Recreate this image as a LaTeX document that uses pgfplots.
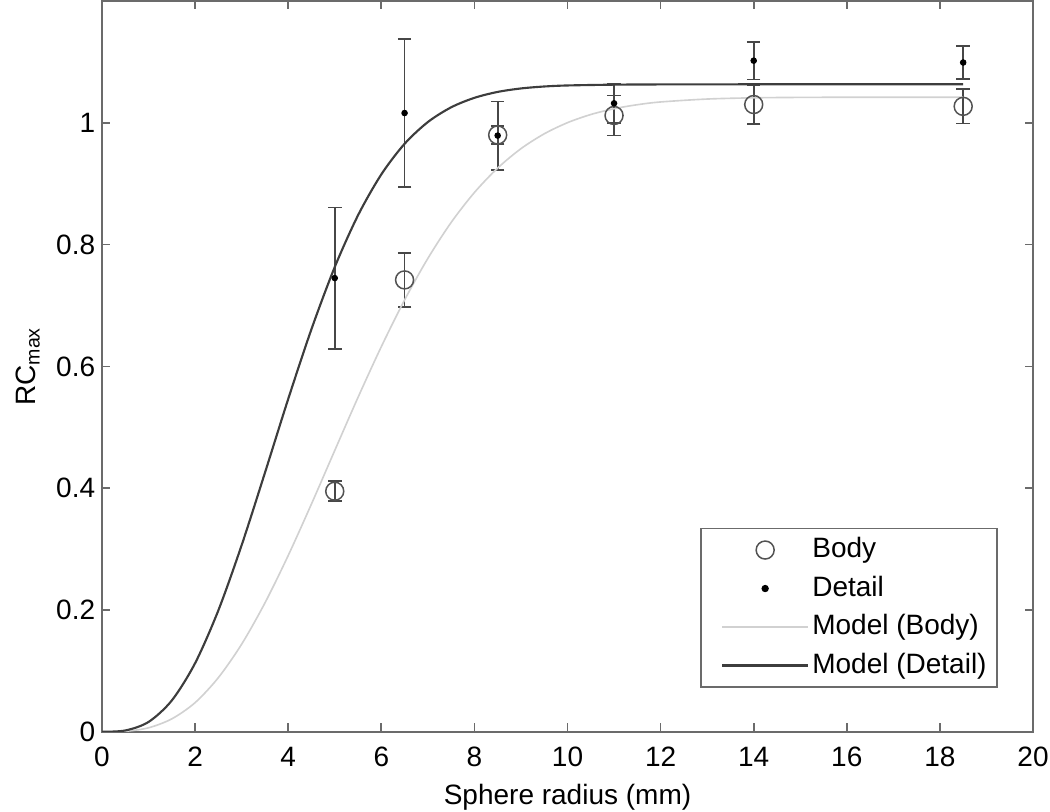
\documentclass[border=0pt]{standalone}
\usepackage{pgfplots}
\pgfplotsset{compat=1.18}
\usepackage{fontspec}
\setmainfont{Liberation Sans}

\definecolor{frame}{gray}{0.42}
\definecolor{errc}{gray}{0.28}
\definecolor{circ}{gray}{0.32}
\definecolor{mbody}{gray}{0.82}
\definecolor{mdetail}{gray}{0.24}

\begin{document}
\begin{tikzpicture}[font=\fontsize{11.2}{13.4}\selectfont]
\begin{axis}[
    scale only axis,
    width=372.4pt, height=292.3pt,
    xmin=0, xmax=20, ymin=0, ymax=1.2,
    xtick={0,2,4,6,8,10,12,14,16,18,20},
    ytick={0,0.2,0.4,0.6,0.8,1},
    tick align=inside,
    major tick length=3.4pt,
    axis line style={frame, line width=0.7pt},
    every tick/.style={frame, line width=0.7pt},
    /pgf/number format/assume math mode=true,
    xticklabel style={yshift=-2.6pt},
    yticklabel style={xshift=0.8pt},
    xlabel={Sphere radius (mm)},
    ylabel={RC\textsubscript{max}},
    xlabel style={at={(axis description cs:0.5,-0.089)}, anchor=center},
    ylabel style={at={(axis description cs:-0.0795,0.5)}, anchor=center},
    legend style={at={(axis description cs:0.9624,0.06)}, anchor=south east,
        draw=frame, line width=0.7pt, row sep=2.2pt,
        nodes={inner sep=1.2pt, text height=8.4pt, text depth=2.4pt}},
    legend cell align=left,
    legend image code/.code={\path (-5pt,0pt);
        \draw[mark repeat=2,mark phase=2,#1]
        plot coordinates {(0pt,0pt) (17.25pt,0pt) (34.5pt,0pt)};},
]
% Body measurements
\addplot[only marks, mark=o, mark size=3.6pt, color=circ, line width=0.6pt,
    error bars/.cd, y dir=both, y explicit,
    error bar style={errc, line width=0.7pt},
    error mark options={errc, rotate=90, mark size=2.7pt, line width=0.7pt}]
coordinates {
    (5,0.395)   +- (0,0.0165)
    (6.5,0.742) +- (0,0.044)
    (8.5,0.980) +- (0,0.015)
    (11,1.012)  +- (0,0.033)
    (14,1.030)  +- (0,0.032)
    (18.5,1.027) +- (0,0.028)
};
% Detail measurements
\addplot[only marks, mark=*, mark size=1.1pt, color=black,
    error bars/.cd, y dir=both, y explicit,
    error bar style={errc, line width=0.7pt},
    error mark options={errc, rotate=90, mark size=2.7pt, line width=0.7pt}]
coordinates {
    (5,0.745)   +- (0,0.116)
    (6.5,1.016) +- (0,0.121)
    (8.5,0.979) +- (0,0.056)
    (11,1.032)  +- (0,0.032)
    (14,1.102)  +- (0,0.031)
    (18.5,1.099) +- (0,0.027)
};
% Model (Body)
\addplot[mbody, line width=0.65pt, smooth, no marks] coordinates {
    (0,0) (0.5,0.0008) (1,0.0065) (1.5,0.0212) (2,0.0478) (2.5,0.0889)
    (3,0.1438) (3.5,0.2115) (4,0.2894) (4.5,0.3741) (5,0.4619)
    (5.5,0.5491) (6,0.6323) (6.5,0.7090) (7,0.7773) (7.5,0.8363)
    (8,0.8855) (8.5,0.9257) (9,0.9575) (9.5,0.9819) (10,1.0002)
    (10.5,1.0136) (11,1.0231) (11.5,1.0297) (12,1.0342) (13,1.0390)
    (14,1.0410) (15,1.0417) (16,1.0419) (18.5,1.0420)
};
% Model (Detail)
\addplot[mdetail, line width=0.85pt, smooth, no marks] coordinates {
    (0,0) (0.5,0.0021) (1,0.0161) (1.5,0.0514) (2,0.1126) (2.5,0.1994)
    (3,0.3064) (3.5,0.4252) (4,0.5464) (4.5,0.6612) (5,0.7631)
    (5.5,0.8481) (6,0.9152) (6.5,0.9655) (7,1.0012) (7.5,1.0254)
    (8,1.0410) (8.5,1.0507) (9,1.0564) (9.5,1.0596) (10,1.0613)
    (11,1.0626) (12,1.0630) (14,1.0632) (18.5,1.0632)
};
\legend{Body, Detail, Model (Body), Model (Detail)}
\coordinate (sw) at (rel axis cs:0,0);
\coordinate (ne) at (rel axis cs:1,1);
\end{axis}
\pgfresetboundingbox
\useasboundingbox ([xshift=-40.8pt,yshift=-31.7pt]sw) rectangle ([xshift=6.8pt,yshift=0.4pt]ne);
\end{tikzpicture}
\end{document}
